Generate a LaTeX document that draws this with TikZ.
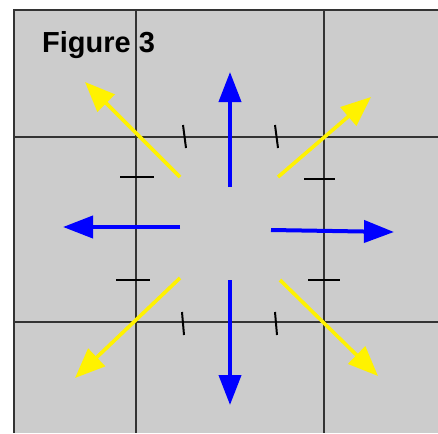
\documentclass[tikz,border=0pt]{standalone}
\usepackage{fontspec}
\setmainfont{Liberation Sans}
\usetikzlibrary{arrows.meta}

\tikzset{
  grid line/.style={draw=black!80, line width=1.6pt},
  tick/.style={draw=black, line width=2pt},
  bluearrow/.style={draw=blue, line width=4pt, -{Triangle[length=30pt,width=22pt]}},
  yellowarrow/.style={draw=yellow, line width=3.6pt, -{Triangle[length=30pt,width=24pt]}}
}

\begin{document}
\begin{tikzpicture}[x=1pt,y=-1pt]
                \useasboundingbox (0,0) rectangle (438,433);
                % Background
                \fill[black!20] (14,10) rectangle (438,433);
                \draw[grid line] (438,10) -- (14,10) -- (14,433);
                \draw[grid line] (136,10) -- (136,433);
                \draw[grid line] (324,10) -- (324,433);
                \draw[grid line] (14,137) -- (438,137);
                \draw[grid line] (14,322) -- (438,322);

                % Title
                \node[anchor=base west, inner sep=0pt, font=\bfseries\fontsize{29}{30}\selectfont] (title) at (42,53) {Figure 3};

                % Nodes
                \coordinate (n0) at (230,187);
                \coordinate (n1) at (230,72);
                \coordinate (s0) at (230,280);
                \coordinate (s1) at (230,405);
                \coordinate (w0) at (180,227);
                \coordinate (w1) at (63,227);
                \coordinate (e0) at (271,230);
                \coordinate (e1) at (394,232);
                \coordinate (nw0) at (180,177);
                \coordinate (nw1) at (85,82);
                \coordinate (ne0) at (278,177);
                \coordinate (ne1) at (371,97);
                \coordinate (sw0) at (180,278);
                \coordinate (sw1) at (75,378);
                \coordinate (se0) at (280,280);
                \coordinate (se1) at (378,376);

                % Ticks
                \draw[tick] (120,177) -- (154,177);
                \draw[tick] (116,280) -- (150,280);
                \draw[tick] (304,179) -- (335,179);
                \draw[tick] (308,280) -- (340,280);
                \draw[tick] (183,125) -- (186,148);
                \draw[tick] (275,125) -- (278,148);
                \draw[tick] (182,312) -- (184,335);
                \draw[tick] (275,312) -- (277,335);

                % Edges
                \draw[bluearrow] (n0)--(n1);
                \draw[bluearrow] (s0)--(s1);
                \draw[bluearrow] (w0)--(w1);
                \draw[bluearrow] (e0)--(e1);
                \draw[yellowarrow] (nw0)--(nw1);
                \draw[yellowarrow] (ne0)--(ne1);
                \draw[yellowarrow] (sw0)--(sw1);
                \draw[yellowarrow] (se0)--(se1);
            \end{tikzpicture}
\end{document}
